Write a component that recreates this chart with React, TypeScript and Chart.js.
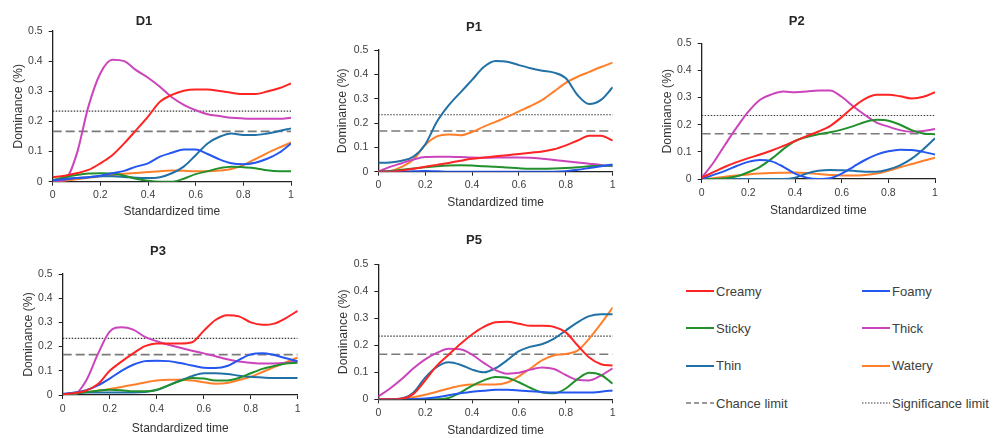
import React, { useEffect, useRef } from "react";
import { Chart, registerables } from "chart.js";

Chart.register(...registerables);

// ---------- DATA ----------
const TIME = [0, 0.05, 0.1, 0.15, 0.2, 0.25, 0.3, 0.35, 0.4, 0.45, 0.5, 0.55, 0.6, 0.65, 0.7, 0.75, 0.8, 0.85, 0.9, 0.95, 1];
const X_TICKS = [0, 0.2, 0.4, 0.6, 0.8, 1];
const Y_TICKS = [0, 0.1, 0.2, 0.3, 0.4, 0.5];
const CHANCE_LIMIT = 0.167;
const SIGNIFICANCE_LIMIT = 0.234;
const ATTRIBUTES = ["Creamy", "Foamy", "Sticky", "Thick", "Thin", "Watery"];
const PANEL_NAMES = ["D1", "P1", "P2", "P3", "P5"];

const D1_CREAMY = [0.015, 0.02, 0.028, 0.039, 0.061, 0.088, 0.127, 0.171, 0.216, 0.265, 0.288, 0.302, 0.306, 0.306, 0.301, 0.295, 0.291, 0.291, 0.299, 0.31, 0.326];
const D1_FOAMY = [0.005, 0.008, 0.012, 0.015, 0.02, 0.028, 0.036, 0.05, 0.061, 0.083, 0.096, 0.107, 0.107, 0.092, 0.074, 0.061, 0.058, 0.063, 0.076, 0.096, 0.127];
const D1_STICKY = [0.005, 0.015, 0.022, 0.027, 0.028, 0.027, 0.02, 0.01, 0.003, 0, 0, 0.01, 0.025, 0.035, 0.045, 0.05, 0.048, 0.045, 0.038, 0.035, 0.035];
const D1_THICK = [0, 0.005, 0.09, 0.25, 0.36, 0.405, 0.4, 0.37, 0.345, 0.315, 0.28, 0.255, 0.237, 0.224, 0.218, 0.212, 0.21, 0.209, 0.209, 0.209, 0.212];
const D1_THIN = [0.005, 0.01, 0.012, 0.015, 0.018, 0.018, 0.016, 0.013, 0.012, 0.015, 0.028, 0.05, 0.088, 0.127, 0.149, 0.16, 0.155, 0.155, 0.16, 0.168, 0.177];
const D1_WATERY = [0, 0.003, 0.008, 0.013, 0.018, 0.022, 0.026, 0.029, 0.032, 0.035, 0.037, 0.036, 0.035, 0.035, 0.037, 0.042, 0.055, 0.075, 0.095, 0.113, 0.13];

const P1_CREAMY = [0, 0, 0.005, 0.012, 0.02, 0.028, 0.036, 0.045, 0.053, 0.058, 0.063, 0.068, 0.073, 0.078, 0.083, 0.092, 0.108, 0.128, 0.148, 0.148, 0.128];
const P1_FOAMY = [0, 0, 0, 0.002, 0.003, 0.002, 0, 0, 0, 0, 0, 0, 0, 0, 0, 0, 0.002, 0.008, 0.015, 0.022, 0.03];
const P1_STICKY = [0, 0.003, 0.008, 0.013, 0.018, 0.022, 0.025, 0.026, 0.025, 0.022, 0.02, 0.017, 0.014, 0.012, 0.012, 0.013, 0.015, 0.018, 0.022, 0.024, 0.025];
const P1_THICK = [0, 0.02, 0.035, 0.05, 0.06, 0.061, 0.061, 0.06, 0.058, 0.057, 0.058, 0.058, 0.058, 0.057, 0.053, 0.048, 0.043, 0.038, 0.033, 0.028, 0.022];
const P1_THIN = [0.037, 0.038, 0.045, 0.062, 0.112, 0.205, 0.272, 0.325, 0.377, 0.43, 0.455, 0.452, 0.438, 0.425, 0.415, 0.407, 0.384, 0.315, 0.278, 0.295, 0.347];
const P1_WATERY = [0, 0.003, 0.02, 0.05, 0.11, 0.145, 0.153, 0.15, 0.163, 0.185, 0.205, 0.225, 0.248, 0.27, 0.295, 0.33, 0.365, 0.39, 0.41, 0.43, 0.448];

const P2_CREAMY = [0.005, 0.025, 0.045, 0.062, 0.077, 0.09, 0.105, 0.122, 0.14, 0.158, 0.175, 0.195, 0.228, 0.265, 0.295, 0.31, 0.31, 0.305, 0.297, 0.303, 0.32];
const P2_FOAMY = [0, 0.015, 0.03, 0.048, 0.063, 0.07, 0.065, 0.045, 0.02, 0.005, 0, 0.003, 0.02, 0.045, 0.07, 0.09, 0.102, 0.108, 0.107, 0.1, 0.09];
const P2_STICKY = [0, 0, 0.003, 0.01, 0.025, 0.045, 0.075, 0.11, 0.14, 0.155, 0.165, 0.172, 0.182, 0.195, 0.21, 0.218, 0.215, 0.2, 0.18, 0.168, 0.165];
const P2_THICK = [0.005, 0.06, 0.126, 0.19, 0.248, 0.292, 0.312, 0.322, 0.32, 0.322, 0.326, 0.326, 0.303, 0.267, 0.236, 0.208, 0.193, 0.18, 0.174, 0.177, 0.184];
const P2_THIN = [0, 0, 0, 0, 0, 0, 0, 0, 0.005, 0.02, 0.03, 0.033, 0.032, 0.03, 0.027, 0.027, 0.035, 0.05, 0.075, 0.11, 0.15];
const P2_WATERY = [0, 0.003, 0.008, 0.013, 0.017, 0.02, 0.022, 0.023, 0.024, 0.022, 0.018, 0.015, 0.013, 0.013, 0.015, 0.02, 0.03, 0.043, 0.055, 0.067, 0.078];

const P3_CREAMY = [0.003, 0.008, 0.018, 0.045, 0.1, 0.138, 0.172, 0.202, 0.213, 0.213, 0.213, 0.218, 0.265, 0.31, 0.33, 0.325, 0.3, 0.29, 0.295, 0.318, 0.348];
const P3_FOAMY = [0.005, 0.01, 0.02, 0.04, 0.068, 0.1, 0.125, 0.14, 0.142, 0.14, 0.132, 0.122, 0.113, 0.112, 0.12, 0.145, 0.168, 0.173, 0.165, 0.152, 0.14];
const P3_STICKY = [0, 0.005, 0.012, 0.018, 0.022, 0.02, 0.015, 0.015, 0.022, 0.04, 0.058, 0.07, 0.068, 0.06, 0.06, 0.07, 0.09, 0.108, 0.12, 0.13, 0.133];
const P3_THICK = [0, 0.003, 0.06, 0.17, 0.262, 0.28, 0.27, 0.24, 0.222, 0.208, 0.195, 0.183, 0.172, 0.16, 0.148, 0.138, 0.133, 0.13, 0.13, 0.133, 0.14];
const P3_THIN = [0.003, 0.008, 0.01, 0.01, 0.01, 0.01, 0.01, 0.012, 0.02, 0.04, 0.06, 0.078, 0.09, 0.09, 0.087, 0.08, 0.075, 0.072, 0.07, 0.07, 0.07];
const P3_WATERY = [0, 0.005, 0.012, 0.018, 0.025, 0.033, 0.042, 0.052, 0.06, 0.063, 0.063, 0.06, 0.053, 0.047, 0.05, 0.062, 0.075, 0.095, 0.115, 0.135, 0.155];

const P5_CREAMY = [0, 0, 0.002, 0.02, 0.07, 0.125, 0.165, 0.205, 0.24, 0.268, 0.285, 0.287, 0.28, 0.272, 0.272, 0.268, 0.248, 0.2, 0.155, 0.13, 0.125];
const P5_FOAMY = [0, 0, 0, 0.001, 0.003, 0.008, 0.015, 0.022, 0.028, 0.032, 0.035, 0.035, 0.033, 0.03, 0.027, 0.025, 0.025, 0.025, 0.025, 0.028, 0.033];
const P5_STICKY = [0, 0, 0, 0, 0, 0, 0.005, 0.025, 0.05, 0.07, 0.083, 0.08, 0.063, 0.042, 0.025, 0.022, 0.04, 0.075, 0.098, 0.09, 0.058];
const P5_THICK = [0.01, 0.04, 0.075, 0.115, 0.148, 0.172, 0.187, 0.185, 0.165, 0.135, 0.108, 0.095, 0.098, 0.11, 0.118, 0.112, 0.09, 0.072, 0.07, 0.088, 0.115];
const P5_THIN = [0, 0, 0.003, 0.025, 0.08, 0.12, 0.137, 0.128, 0.11, 0.1, 0.115, 0.145, 0.178, 0.195, 0.205, 0.225, 0.255, 0.285, 0.308, 0.315, 0.315];
const P5_WATERY = [0, 0, 0.003, 0.008, 0.017, 0.028, 0.04, 0.05, 0.055, 0.055, 0.055, 0.062, 0.085, 0.115, 0.145, 0.163, 0.168, 0.18, 0.225, 0.28, 0.34];

const SERIES_BY_PANEL: number[][][] = [
  [D1_CREAMY, D1_FOAMY, D1_STICKY, D1_THICK, D1_THIN, D1_WATERY],
  [P1_CREAMY, P1_FOAMY, P1_STICKY, P1_THICK, P1_THIN, P1_WATERY],
  [P2_CREAMY, P2_FOAMY, P2_STICKY, P2_THICK, P2_THIN, P2_WATERY],
  [P3_CREAMY, P3_FOAMY, P3_STICKY, P3_THICK, P3_THIN, P3_WATERY],
  [P5_CREAMY, P5_FOAMY, P5_STICKY, P5_THICK, P5_THIN, P5_WATERY],
];

// ---------- STYLE / LAYOUT ----------
const COLORS: Record<string, string> = {
  Creamy: "#ff2424",
  Foamy: "#2456f0",
  Sticky: "#22902c",
  Thick: "#cc44bb",
  Thin: "#2171a6",
  Watery: "#ff7f2a",
};
const CHANCE_COLOR = "#7a7a7a";
const SIGNIF_COLOR = "#3a3a3a";
const FONT = '"Liberation Sans", Arial, sans-serif';
const Y_TITLE_SIZE = 12.3;
const TICK_SIZE = 10.5;

type Layout = {
  x: number; y: number; w: number; h: number;
  area: { left: number; top: number; right: number; bottom: number };
  titleX: number; titleY: number; yTitleX: number; xTitleY: number;
};

const LAYOUTS: Layout[] = [
  { x: 0, y: 0, w: 330, h: 220, area: { left: 52.7, top: 31, right: 291, bottom: 181.7 }, titleX: 144, titleY: 21, yTitleX: 18.5, xTitleY: 211.7 },
  { x: 330, y: 0, w: 330, h: 220, area: { left: 48.3, top: 50, right: 282.7, bottom: 171.7 }, titleX: 144, titleY: 27, yTitleX: 12.9, xTitleY: 202.3 },
  { x: 660, y: 0, w: 335, h: 220, area: { left: 41.7, top: 43.3, right: 275, bottom: 179 }, titleX: 136.7, titleY: 21.7, yTitleX: 7.5, xTitleY: 210.7 },
  { x: 0, y: 220, w: 330, h: 218, area: { left: 62.7, top: 54, right: 297.7, bottom: 175 }, titleX: 158, titleY: 31.7, yTitleX: 28.3, xTitleY: 208.3 },
  { x: 330, y: 220, w: 330, h: 218, area: { left: 48.3, top: 44.3, right: 282.7, bottom: 179.3 }, titleX: 144, titleY: 20.7, yTitleX: 13.3, xTitleY: 210.8 },
];

const panelTitlePlugin = {
  id: "panelTitle",
  afterDraw(chart: any, _args: any, opts: any) {
    const ctx = chart.ctx;
    ctx.save();
    ctx.font = `bold 13px ${FONT}`;
    ctx.fillStyle = "#262626";
    ctx.textAlign = "center";
    ctx.textBaseline = "middle";
    ctx.fillText(opts.text, opts.x, opts.y);
    ctx.restore();
  },
};

const fmt = (v: any) => `${+Number(v).toFixed(2)}`;

function Panel({ index }: { index: number }) {
  const ref = useRef<HTMLCanvasElement>(null);
  const L = LAYOUTS[index];
  useEffect(() => {
    if (!ref.current) return;
    const series = SERIES_BY_PANEL[index];
    const lineSets = ATTRIBUTES.map((name, k) => ({
      label: name,
      data: series[k].map((v, i) => ({ x: TIME[i], y: v })),
      borderColor: COLORS[name],
      backgroundColor: COLORS[name],
      borderWidth: 2,
      pointRadius: 0,
      fill: false,
      cubicInterpolationMode: "monotone" as const,
    }));
    const limitSets = [
      {
        label: "Chance limit",
        data: [{ x: X_TICKS[0], y: CHANCE_LIMIT }, { x: X_TICKS[X_TICKS.length - 1], y: CHANCE_LIMIT }],
        borderColor: CHANCE_COLOR,
        borderWidth: 1.6,
        borderDash: [9, 4],
        pointRadius: 0,
        fill: false,
      },
      {
        label: "Significance limit",
        data: [{ x: X_TICKS[0], y: SIGNIFICANCE_LIMIT }, { x: X_TICKS[X_TICKS.length - 1], y: SIGNIFICANCE_LIMIT }],
        borderColor: SIGNIF_COLOR,
        borderWidth: 1.2,
        borderDash: [1.5, 1.5],
        pointRadius: 0,
        fill: false,
      },
    ];
    const A = L.area;
    const yLH = Y_TITLE_SIZE * 1.2;
    const xLH = 12 * 1.2;
    const chart = new Chart(ref.current, {
      type: "line",
      data: { datasets: [...lineSets, ...limitSets] as any },
      plugins: [panelTitlePlugin as any],
      options: {
        animation: false,
        responsive: false,
        devicePixelRatio: 1,
        layout: { padding: { left: 0, top: A.top, right: L.w - A.right, bottom: 0 } },
        plugins: {
          legend: { display: false },
          tooltip: { enabled: false },
          panelTitle: { text: PANEL_NAMES[index], x: L.titleX, y: L.titleY },
        } as any,
        scales: {
          x: {
            type: "linear",
            min: X_TICKS[0],
            max: X_TICKS[X_TICKS.length - 1],
            afterBuildTicks: (s: any) => { s.ticks = X_TICKS.map((v) => ({ value: v })); },
            afterFit: (s: any) => { s.height = L.h - A.bottom; },
            ticks: { autoSkip: false, maxRotation: 0, padding: 3.5, color: "#404040", font: { family: FONT, size: TICK_SIZE }, callback: fmt },
            grid: { display: true, drawOnChartArea: false, drawTicks: true, tickLength: 4, color: "#222", lineWidth: 1 },
            border: { display: true, color: "#222", width: 1.3 },
            title: {
              display: true,
              text: "Standardized time",
              color: "#333",
              font: { family: FONT, size: 12 },
              padding: { top: 0, bottom: Math.max(0, L.h - L.xTitleY - xLH / 2) },
            },
          },
          y: {
            type: "linear",
            min: Y_TICKS[0],
            max: Y_TICKS[Y_TICKS.length - 1],
            afterBuildTicks: (s: any) => { s.ticks = Y_TICKS.map((v) => ({ value: v })); },
            afterFit: (s: any) => { s.width = A.left; },
            ticks: { autoSkip: false, padding: 6, color: "#404040", font: { family: FONT, size: TICK_SIZE }, callback: fmt },
            grid: { display: true, drawOnChartArea: false, drawTicks: true, tickLength: 4, color: "#222", lineWidth: 1 },
            border: { display: true, color: "#222", width: 1.3 },
            title: {
              display: true,
              text: "Dominance (%)",
              color: "#333",
              font: { family: FONT, size: Y_TITLE_SIZE },
              padding: { top: Math.max(0, L.yTitleX - yLH / 2), bottom: 0 },
            },
          },
        },
      },
    });
    return () => chart.destroy();
  }, [index]);
  return (
    <canvas
      ref={ref}
      width={L.w}
      height={L.h}
      style={{ position: "absolute", left: L.x, top: L.y, width: L.w, height: L.h }}
    />
  );
}

type LegendItem = { label: string; color: string; dash?: string; width: number };
const LEGEND_ITEMS: LegendItem[] = [
  { label: "Creamy", color: COLORS.Creamy, width: 2 },
  { label: "Foamy", color: COLORS.Foamy, width: 2 },
  { label: "Sticky", color: COLORS.Sticky, width: 2 },
  { label: "Thick", color: COLORS.Thick, width: 2 },
  { label: "Thin", color: COLORS.Thin, width: 2 },
  { label: "Watery", color: COLORS.Watery, width: 2 },
  { label: "Chance limit", color: CHANCE_COLOR, dash: "5,3", width: 1.6 },
  { label: "Significance limit", color: SIGNIF_COLOR, dash: "1.5,1.5", width: 1.2 },
];
const LEGEND_ROWS_Y = [291, 328.3, 365.7, 403.3];
const LEGEND_COLS_X = [686, 862];

function Legend() {
  return (
    <>
      {LEGEND_ITEMS.map((it, i) => {
        const col = i % 2;
        const row = Math.floor(i / 2);
        const x = LEGEND_COLS_X[col];
        const y = LEGEND_ROWS_Y[row];
        return (
          <div key={it.label} style={{ position: "absolute", left: x, top: y - 10, height: 20, display: "flex", alignItems: "center", whiteSpace: "nowrap" }}>
            <svg width={29} height={20} style={{ display: "block" }}>
              <line x1={0} y1={10} x2={28} y2={10} stroke={it.color} strokeWidth={it.width} strokeDasharray={it.dash} />
            </svg>
            <span style={{ fontFamily: FONT, fontSize: 13, color: "#404040", marginLeft: 1 }}>{it.label}</span>
          </div>
        );
      })}
    </>
  );
}

export default function App() {
  return (
    <div style={{ position: "absolute", left: 0, top: 0, width: 995, height: 438, background: "#fff", overflow: "hidden" }}>
      {PANEL_NAMES.map((_, i) => (
        <Panel key={i} index={i} />
      ))}
      <Legend />
    </div>
  );
}
